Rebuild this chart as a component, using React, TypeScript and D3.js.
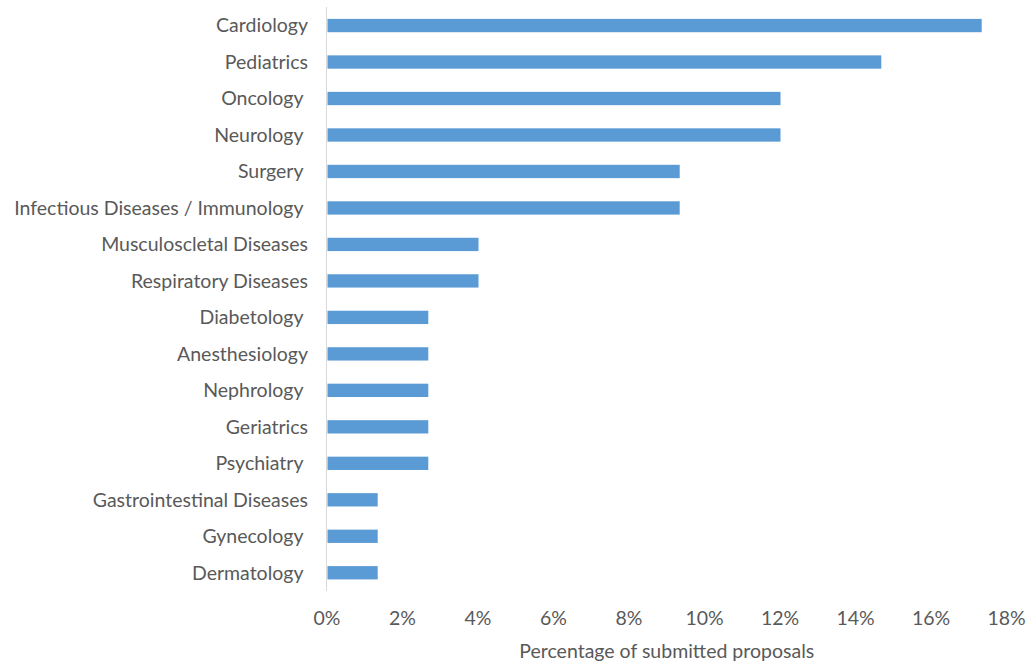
import React from "react";
import * as d3 from "d3";

const categories = [
  "Cardiology",
  "Pediatrics",
  "Oncology ",
  "Neurology ",
  "Surgery ",
  "Infectious Diseases / Immunology ",
  "Musculoscletal Diseases",
  "Respiratory Diseases",
  "Diabetology ",
  "Anesthesiology",
  "Nephrology ",
  "Geriatrics",
  "Psychiatry ",
  "Gastrointestinal Diseases",
  "Gynecology ",
  "Dermatology ",
];
const values = [
  0.1733, 0.1467, 0.12, 0.12, 0.0933, 0.0933, 0.04, 0.04, 0.0267, 0.0267, 0.0267,
  0.0267, 0.0267, 0.0133, 0.0133, 0.0133,
];
const xTicks = [0, 0.02, 0.04, 0.06, 0.08, 0.1, 0.12, 0.14, 0.16, 0.18];
const xTitle = "Percentage of submitted proposals";

const W = 1027;
const H = 661;
const FONT = "Lato, 'Open Sans', sans-serif";
const TEXT = "#595959";
const FS = 19.5;

export default function App() {
  const x = d3.scaleLinear().domain([0, 0.18]).range([327, 1006.5]);
  const y = d3
    .scaleBand<string>()
    .domain(categories)
    .range([7.3, 591])
    .paddingInner(0.635)
    .paddingOuter(0.3175);
  const fmt = d3.format(".0%");
  return (
    <svg
      width={W}
      height={H}
      style={{ position: "absolute", left: 0, top: 0, background: "#fff" }}
      fontFamily={FONT}
    >
      <line x1={326.5} x2={326.5} y1={7} y2={591} stroke="#D9D9D9" strokeWidth={1} />
      {categories.map((c, i) => (
        <rect
          key={c}
          x={x(0) + 0.5}
          y={y(c)!}
          width={x(values[i]) - x(0)}
          height={y.bandwidth()}
          fill="#5B9BD5"
        />
      ))}
      {categories.map((c) => (
        <text
          key={"l" + c}
          x={308}
          y={y(c)! + y.bandwidth() / 2}
          dy="0.35em"
          textAnchor="end"
          fontSize={FS}
          fill={TEXT}
          style={{ whiteSpace: "pre" }}
        >
          {c}
        </text>
      ))}
      {xTicks.map((t) => (
        <text
          key={"t" + t}
          x={x(t)}
          y={625}
          textAnchor="middle"
          fontSize={FS}
          fill={TEXT}
        >
          {fmt(t)}
        </text>
      ))}
      <text x={(x(0) + x(0.18)) / 2} y={658} textAnchor="middle" fontSize={FS} fill={TEXT}>
        {xTitle}
      </text>
    </svg>
  );
}
